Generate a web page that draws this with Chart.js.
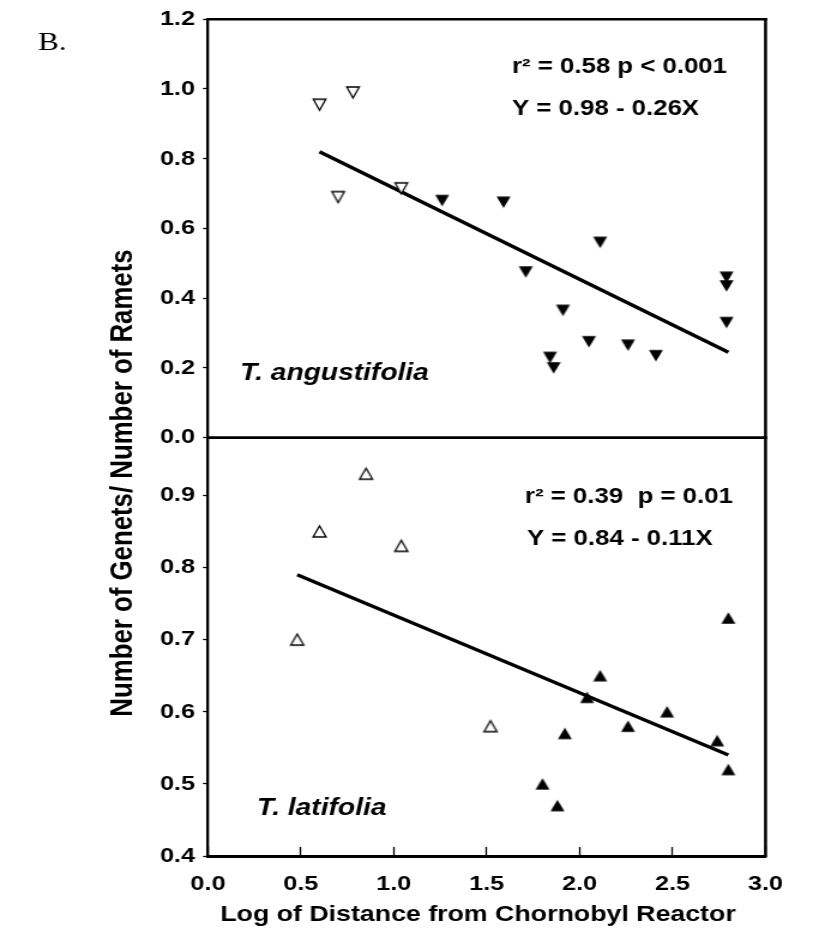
<!DOCTYPE html>
<html><head><meta charset="utf-8">
<script src="https://cdn.jsdelivr.net/npm/chart.js@4.4.1/dist/chart.umd.min.js"></script>
<style>
html,body{margin:0;padding:0;background:#fff;overflow:hidden}
#wrap{position:absolute;left:0;top:0;height:942px;transform-origin:0 0}
#c{display:block}
</style>
</head><body>
<div id="wrap"><canvas id="c" width="678" height="942"></canvas></div>
<script>
// ---- data ----
const xTicks = [0, 0.5, 1.0, 1.5, 2.0, 2.5, 3.0];
const topTicks = [0, 0.2, 0.4, 0.6, 0.8, 1.0, 1.2];
const botTicks = [0.4, 0.5, 0.6, 0.7, 0.8, 0.9];

const angOpenX = [0.60, 0.78, 0.70, 1.04];
const angOpenY = [0.955, 0.99, 0.69, 0.715];
const angFillX = [1.26, 1.59, 1.71, 1.91, 1.84, 1.86, 2.05, 2.11, 2.26, 2.41, 2.79, 2.79, 2.79];
const angFillY = [0.68, 0.675, 0.475, 0.365, 0.23, 0.20, 0.275, 0.56, 0.265, 0.235, 0.46, 0.435, 0.33];
const angFitX = [0.60, 2.80];
const angFitY = [0.82, 0.245];

const latOpenX = [0.48, 0.60, 0.85, 1.04, 1.52];
const latOpenY = [0.70, 0.85, 0.93, 0.83, 0.58];
const latFillX = [1.80, 1.88, 1.92, 2.04, 2.11, 2.26, 2.47, 2.74, 2.80, 2.80];
const latFillY = [0.50, 0.47, 0.57, 0.62, 0.65, 0.58, 0.60, 0.56, 0.52, 0.73];
const latFitX = [0.48, 2.80];
const latFitY = [0.79, 0.54];

const panelLabels = ['T. angustifolia', 'T. latifolia'];
const statLines = [['r\u00B2 = 0.58 p < 0.001', 'Y = 0.98 - 0.26X'], ['r\u00B2 = 0.39  p = 0.01', 'Y = 0.84 - 0.11X']];
const xTitle = 'Log of Distance from Chornobyl Reactor';
const yTitle = 'Number of Genets/ Number of Ramets';
const figLetter = 'B.';

// ---- rendering ----
const canvas = document.getElementById('c');
const S = 813 / canvas.width; // horizontal stretch of the original figure
const wrap = document.getElementById('wrap');
wrap.style.width = canvas.width + 'px';
wrap.style.transform = 'scaleX(' + S + ')';
const FONT = '"Liberation Sans", Arial, sans-serif';

function pts(xs, ys) { return xs.map((x, i) => ({x: x, y: ys[i]})); }

function tri(w, h, down, filled) {
  const c = document.createElement('canvas');
  const cw = Math.ceil(w) + 4, ch = Math.ceil(h) + 4;
  c.width = cw; c.height = ch;
  const g = c.getContext('2d');
  const x0 = (cw - w) / 2, y0 = (ch - h) / 2;
  g.beginPath();
  if (down) { g.moveTo(x0, y0); g.lineTo(x0 + w, y0); g.lineTo(x0 + w / 2, y0 + h); }
  else { g.moveTo(x0 + w / 2, y0); g.lineTo(x0 + w, y0 + h); g.lineTo(x0, y0 + h); }
  g.closePath();
  if (filled) { g.fillStyle = '#000'; g.fill(); }
  else { g.fillStyle = '#fff'; g.fill(); g.lineWidth = 1.3; g.strokeStyle = '#000'; g.stroke(); }
  return c;
}
const triDownFill = tri(14 / S, 11.5, true, true);
const triDownOpen = tri(12.5 / S, 11, true, false);
const triUpFill = tri(14 / S, 11.5, false, true);
const triUpOpen = tri(13 / S, 11, false, false);

function scatterSet(xs, ys, axis, img) {
  return {data: pts(xs, ys), yAxisID: axis, pointStyle: img, pointRadius: 6, showLine: false, order: 1};
}
function fitSet(xs, ys, axis) {
  return {data: pts(xs, ys), yAxisID: axis, showLine: true, borderColor: '#000', borderWidth: 3.3,
          pointRadius: 0, fill: false, order: 2};
}

const framePlugin = {
  id: 'frame',
  afterDraw(chart) {
    const {ctx, chartArea: a} = chart;
    const split = Math.min(chart.scales.yTop.bottom, chart.scales.yBot.bottom);
    ctx.save();
    ctx.strokeStyle = '#000';
    ctx.lineCap = 'square';
    ctx.lineWidth = 2.7;
    ctx.beginPath(); ctx.moveTo(a.left, a.top); ctx.lineTo(a.right, a.top); ctx.stroke();
    ctx.beginPath(); ctx.moveTo(a.left, split); ctx.lineTo(a.right, split); ctx.stroke();
    ctx.lineWidth = 3 / S;
    ctx.beginPath(); ctx.moveTo(a.right, a.top); ctx.lineTo(a.right, a.bottom); ctx.stroke();

    ctx.fillStyle = '#000';
    ctx.textBaseline = 'alphabetic';
    ctx.textAlign = 'left';
    ctx.font = 'bold 21.5px ' + FONT;
    ctx.fillText(statLines[0][0], 512 / S, 73);
    ctx.fillText(statLines[0][1], 512 / S, 115);
    ctx.fillText(statLines[1][0], 525 / S, 503);
    ctx.fillText(statLines[1][1], 527 / S, 545);
    ctx.font = 'italic bold 23.5px ' + FONT;
    ctx.fillText(panelLabels[0], 240 / S, 380);
    ctx.fillText(panelLabels[1], 257 / S, 815);

    ctx.font = 'bold 22.3px ' + FONT;
    ctx.textAlign = 'center';
    ctx.fillText(xTitle, 478 / S, 921);

    ctx.save();
    ctx.translate(123 / S, 483);
    ctx.rotate(-Math.PI / 2);
    ctx.textBaseline = 'middle';
    ctx.font = 'bold 25.8px ' + FONT;
    ctx.fillText(yTitle, 0, 0);
    ctx.restore();

    ctx.font = '26px "Liberation Serif", "Times New Roman", serif';
    ctx.textAlign = 'left';
    ctx.textBaseline = 'alphabetic';
    ctx.fillText(figLetter, 38 / S, 50);
    ctx.restore();
  }
};

const yCommon = {
  type: 'linear', position: 'left', stack: 'panels', stackWeight: 1,
  afterFit: s => { s.width = 208 / S; },
  ticks: {font: {size: 21, weight: 'bold', family: FONT}, color: '#000', padding: 13 / S - 5 / S,
          autoSkip: false, callback: v => Number(v).toFixed(1)},
  grid: {drawOnChartArea: false, tickLength: 5 / S, tickWidth: 1.3, tickColor: '#000'},
  border: {color: '#000', width: 2.8 / S}
};

new Chart(canvas, {
  type: 'scatter',
  data: {datasets: [
    fitSet(angFitX, angFitY, 'yTop'),
    fitSet(latFitX, latFitY, 'yBot'),
    scatterSet(angOpenX, angOpenY, 'yTop', triDownOpen),
    scatterSet(angFillX, angFillY, 'yTop', triDownFill),
    scatterSet(latOpenX, latOpenY, 'yBot', triUpOpen),
    scatterSet(latFillX, latFillY, 'yBot', triUpFill)
  ]},
  options: {
    responsive: false, animation: false, events: [], devicePixelRatio: 1,
    layout: {padding: {left: 0, top: 15, right: (813 - 793) / S, bottom: 0}},
    plugins: {legend: {display: false}, tooltip: {enabled: false}},
    scales: {
      yBot: Object.assign({}, yCommon, {min: 0.4, max: 0.98,
        afterBuildTicks: s => { s.ticks = botTicks.map(v => ({value: v})); }}),
      yTop: Object.assign({}, yCommon, {min: 0, max: 1.2,
        afterBuildTicks: s => { s.ticks = topTicks.map(v => ({value: v})); }}),
      x: {
        type: 'linear', position: 'bottom', min: 0, max: 3,
        afterBuildTicks: s => { s.ticks = xTicks.map(v => ({value: v})); },
        afterFit: s => { s.height = 942 - 856; },
        ticks: {font: {size: 21, weight: 'bold', family: FONT}, color: '#000', padding: 25,
                autoSkip: false, maxRotation: 0, callback: v => Number(v).toFixed(1)},
        grid: {drawOnChartArea: false, tickLength: -9, tickWidth: 1.3, tickColor: '#000'},
        border: {color: '#000', width: 3}
      }
    }
  },
  plugins: [framePlugin]
});
</script>
</body></html>
